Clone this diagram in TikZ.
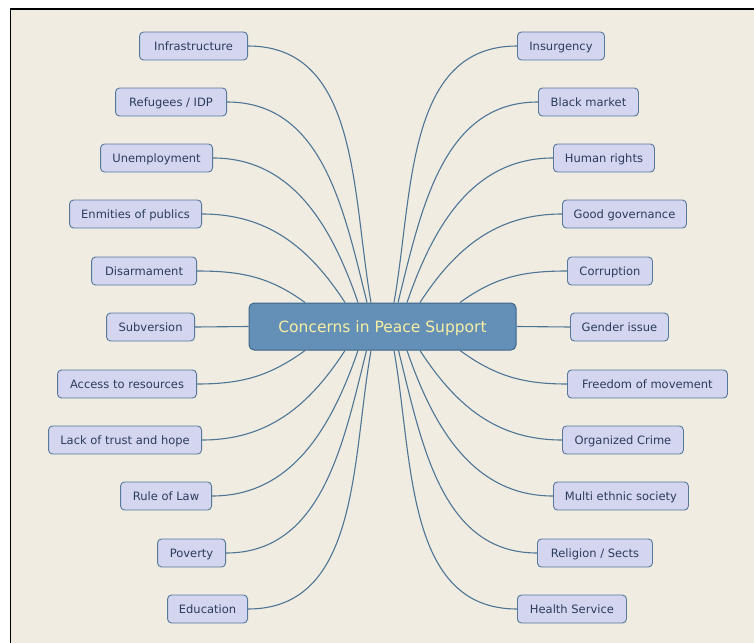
\documentclass[tikz,border=0pt]{standalone}
\usepackage{fontspec}
\setmainfont{DejaVu Sans}
\usetikzlibrary{calc}
\definecolor{bg}{HTML}{F0ECE2}
\definecolor{leaffill}{HTML}{D4D6EF}
\definecolor{leafline}{HTML}{56789A}
\definecolor{leaftext}{HTML}{2B3C5C}
\definecolor{connc}{HTML}{4F7595}
\definecolor{cfill}{HTML}{6490B7}
\definecolor{cline}{HTML}{3D6689}
\definecolor{ctext}{HTML}{F7EFA3}
\begin{document}
\begin{tikzpicture}[x=1pt,y=1pt,
  leaf/.style={draw=leafline, fill=leaffill, rounded corners=4pt, line width=0.9pt,
    minimum height=28pt, inner sep=0pt, text height=9pt, text depth=1pt,
    text=leaftext, font=\fontsize{11.5}{13}\selectfont},
  lnode/.style={leaf, anchor=east},
  rnode/.style={leaf, anchor=west},
  hub/.style={draw=cline, fill=cfill, rounded corners=5pt, line width=1pt,
    minimum width=267pt, minimum height=47pt, inner sep=0pt, text=ctext,
    text height=12pt, text depth=1pt,
    font=\fontsize{15.5}{18}\selectfont},
  conn/.style={draw=connc, line width=1.1pt}]
\useasboundingbox (0,0) rectangle (754,-642);
\clip (0,0) rectangle (754,-642);
\fill[white] (0,0) rectangle (754,-642);
\draw[fill=bg, line width=1.8pt] (10.5,-9.3) rectangle (800,-700);

\node[hub] (c) at (382.5,-326.5) {Concerns in Peace Support};

% left nodes
\node[lnode, minimum width=108pt] (l1) at (248,-46) {Infrastructure};
\node[lnode, minimum width=111pt] (l2) at (227,-102) {Refugees / IDP};
\node[lnode, minimum width=112pt] (l3) at (213,-158) {Unemployment};
\node[lnode, minimum width=132pt] (l4) at (202,-214) {Enmities of publics};
\node[lnode, minimum width=105pt] (l5) at (197,-271) {Disarmament};
\node[lnode, minimum width=88pt] (l6) at (195,-327) {Subversion};
\node[lnode, minimum width=139pt] (l7) at (197,-384) {Access to resources};
\node[lnode, minimum width=153pt] (l8) at (202,-440) {Lack of trust and hope};
\node[lnode, minimum width=91pt] (l9) at (212,-496) {Rule of Law};
\node[lnode, minimum width=68pt] (l10) at (226,-553) {Poverty};
\node[lnode, minimum width=80pt] (l11) at (248,-609) {Education};

% right nodes
\node[rnode, minimum width=87pt] (r1) at (517,-46) {Insurgency};
\node[rnode, minimum width=100pt] (r2) at (538,-102) {Black market};
\node[rnode, minimum width=101pt] (r3) at (553,-158) {Human rights};
\node[rnode, minimum width=124pt] (r4) at (562,-214) {Good governance};
\node[rnode, minimum width=85pt] (r5) at (567,-271) {Corruption};
\node[rnode, minimum width=98pt] (r6) at (570,-327) {Gender issue};
\node[rnode, minimum width=160pt] (r7) at (567,-384) {Freedom of movement};
\node[rnode, minimum width=121pt] (r8) at (562,-440) {Organized Crime};
\node[rnode, minimum width=135pt] (r9) at (553,-496) {Multi ethnic society};
\node[rnode, minimum width=115pt] (r10) at (537,-553) {Religion / Sects};
\node[rnode, minimum width=109pt] (r11) at (517,-609) {Health Service};

% connectors left
\draw[conn] (l1.east) to[out=0,in=100] ([xshift=-11.5pt]c.north);
\draw[conn] (l2.east) to[out=0,in=104] ([xshift=-15.5pt]c.north);
\draw[conn] (l3.east) to[out=0,in=109] ([xshift=-24.5pt]c.north);
\draw[conn] (l4.east) to[out=0,in=123] ([xshift=-37.5pt]c.north);
\draw[conn] (l5.east) to[out=0,in=144] ([xshift=-77.5pt]c.north);
\draw[conn] (l6.east) -- (c.west);
\draw[conn] (l7.east) to[out=0,in=216] ([xshift=-77.5pt]c.south);
\draw[conn] (l8.east) to[out=0,in=237] ([xshift=-37.5pt]c.south);
\draw[conn] (l9.east) to[out=0,in=251] ([xshift=-24.5pt]c.south);
\draw[conn] (l10.east) to[out=0,in=256] ([xshift=-16pt]c.south);
\draw[conn] (l11.east) to[out=0,in=260] ([xshift=-11.5pt]c.south);

% connectors right
\draw[conn] (r1.west) to[out=180,in=80] ([xshift=11.5pt]c.north);
\draw[conn] (r2.west) to[out=180,in=76] ([xshift=15.5pt]c.north);
\draw[conn] (r3.west) to[out=180,in=71] ([xshift=24.5pt]c.north);
\draw[conn] (r4.west) to[out=180,in=57] ([xshift=37.5pt]c.north);
\draw[conn] (r5.west) to[out=180,in=36] ([xshift=77.5pt]c.north);
\draw[conn] (r6.west) -- (c.east);
\draw[conn] (r7.west) to[out=180,in=324] ([xshift=77.5pt]c.south);
\draw[conn] (r8.west) to[out=180,in=303] ([xshift=37.5pt]c.south);
\draw[conn] (r9.west) to[out=180,in=289] ([xshift=24.5pt]c.south);
\draw[conn] (r10.west) to[out=180,in=284] ([xshift=16pt]c.south);
\draw[conn] (r11.west) to[out=180,in=280] ([xshift=11.5pt]c.south);
\end{tikzpicture}
\end{document}
